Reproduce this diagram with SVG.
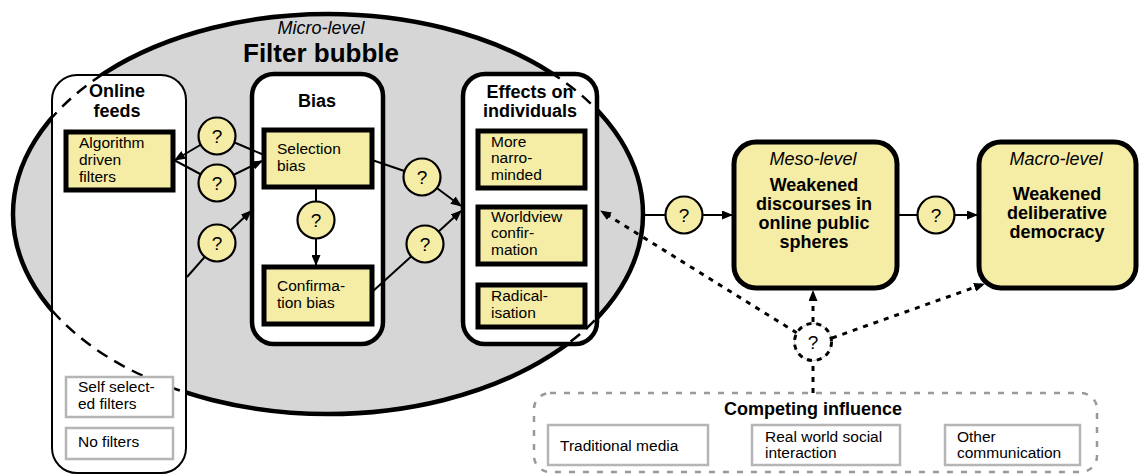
<svg xmlns="http://www.w3.org/2000/svg" width="1139" height="475" viewBox="0 0 1139 475">
<style>
text{font-family:"Liberation Sans",Arial,sans-serif;fill:#000}
.t{font-size:15.5px}
.b{font-weight:bold;font-size:18px}
.i{font-style:italic;font-size:18px}
.q{font-size:19px;text-anchor:middle}
.c{text-anchor:middle}
.yb{fill:#f5eca5;stroke:#000;stroke-width:5}
.gb{fill:#fff;stroke:#b5b5b5;stroke-width:2.5}
.qc{fill:#f5eca5;stroke:#000;stroke-width:2.2}
.ln{fill:none;stroke:#000;stroke-width:2}
.dt{fill:none;stroke:#000;stroke-width:3;stroke-dasharray:5,6}
</style>
<defs>
<marker id="ah" markerUnits="userSpaceOnUse" markerWidth="11" markerHeight="9" refX="10" refY="4.5" orient="auto">
<path d="M0,0 L11,4.5 L0,9 z" fill="#000"/>
</marker>
</defs>

<g id="filter-bubble">
<ellipse cx="328" cy="214" rx="315" ry="200" fill="#d6d6d6" stroke="#000" stroke-width="4.5"/>
<text class="i c" x="321" y="34">Micro-level</text>
<text class="c" x="321" y="62" style="font-weight:bold;font-size:26px">Filter bubble</text>
</g>

<g id="online-feeds">
<rect x="52" y="75" width="134" height="398" rx="25" fill="#fff" stroke="#000" stroke-width="2"/>
<text class="b c" x="117" y="97">Online</text>
<text class="b c" x="117" y="117">feeds</text>
</g>

<g id="bias">
<rect x="252" y="74" width="131" height="270" rx="22" fill="#fff" stroke="#000" stroke-width="4.5"/>
<text class="b c" x="317" y="107">Bias</text>
</g>

<g id="effects">
<rect x="463" y="74" width="134" height="270" rx="22" fill="#fff" stroke="#000" stroke-width="4.5"/>
<text class="b c" x="530" y="98">Effects on</text>
<text class="b c" x="530" y="117">individuals</text>
</g>

<g id="bubble-boundary">
<ellipse cx="328" cy="214" rx="315" ry="200" fill="none" stroke="#000" stroke-width="2.5" stroke-dasharray="12,8"/>
</g>

<g id="algorithm-filters">
<rect class="yb" x="66" y="132" width="107" height="58"/>
<text class="t" x="79" y="148">Algorithm</text>
<text class="t" x="79" y="165">driven</text>
<text class="t" x="79" y="182">filters</text>
</g>

<g id="self-selected-filters">
<rect class="gb" x="66" y="377" width="107" height="40"/>
<text class="t" x="78" y="392">Self select-</text>
<text class="t" x="78" y="409">ed filters</text>
</g>

<g id="no-filters">
<rect class="gb" x="66" y="428" width="107" height="31"/>
<text class="t" x="78" y="447">No filters</text>
</g>

<g id="selection-bias">
<rect class="yb" x="264" y="130" width="108" height="57"/>
<text class="t" x="277" y="154">Selection</text>
<text class="t" x="277" y="171">bias</text>
</g>

<g id="confirmation-bias">
<rect class="yb" x="264" y="267" width="108" height="57"/>
<text class="t" x="277" y="291">Confirma-</text>
<text class="t" x="277" y="308">tion bias</text>
</g>

<g id="narrow-minded">
<rect class="yb" x="478" y="131" width="107" height="57"/>
<text class="t" x="491" y="147">More</text>
<text class="t" x="491" y="163">narro-</text>
<text class="t" x="491" y="180">minded</text>
</g>

<g id="worldview-confirmation">
<rect class="yb" x="478" y="207" width="107" height="57"/>
<text class="t" x="491" y="222">Worldview</text>
<text class="t" x="491" y="238">confir-</text>
<text class="t" x="491" y="255">mation</text>
</g>

<g id="radicalisation">
<rect class="yb" x="478" y="285" width="107" height="42"/>
<text class="t" x="491" y="301">Radical-</text>
<text class="t" x="491" y="318">isation</text>
</g>

<g id="meso">
<rect x="734" y="142" width="163" height="146" rx="22" fill="#f5eca5" stroke="#000" stroke-width="5"/>
<text class="i c" x="813" y="165">Meso-level</text>
<text class="b c" x="814" y="191">Weakened</text>
<text class="b c" x="814" y="210">discourses in</text>
<text class="b c" x="814" y="229">online public</text>
<text class="b c" x="814" y="248">spheres</text>
</g>

<g id="macro">
<rect x="979" y="142" width="157" height="146" rx="22" fill="#f5eca5" stroke="#000" stroke-width="5"/>
<text class="i c" x="1056" y="165">Macro-level</text>
<text class="b c" x="1057" y="200">Weakened</text>
<text class="b c" x="1057" y="219">deliberative</text>
<text class="b c" x="1057" y="238">democracy</text>
</g>

<g id="competing-influence">
<rect x="534" y="393" width="563" height="79" rx="16" fill="none" stroke="#999" stroke-width="2.5" stroke-dasharray="6,8"/>
<text class="b c" x="813" y="415">Competing influence</text>
<rect class="gb" x="548" y="425" width="160" height="40"/>
<text class="t" x="560" y="451">Traditional media</text>
<rect class="gb" x="752" y="425" width="148" height="40"/>
<text class="t" x="765" y="442">Real world social</text>
<text class="t" x="765" y="458">interaction</text>
<rect class="gb" x="945" y="425" width="135" height="40"/>
<text class="t" x="957" y="442">Other</text>
<text class="t" x="957" y="458">communication</text>
</g>

<g id="connectors">
<line class="ln" x1="264" y1="155" x2="217" y2="135"/>
<line class="ln" x1="217" y1="135" x2="175" y2="160" marker-end="url(#ah)"/>
<line class="ln" x1="174" y1="160" x2="217" y2="183"/>
<line class="ln" x1="217" y1="183" x2="262" y2="161" marker-end="url(#ah)"/>
<line class="ln" x1="187" y1="277" x2="217" y2="243"/>
<line class="ln" x1="217" y1="243" x2="251" y2="211" marker-end="url(#ah)"/>
<line class="ln" x1="316" y1="188" x2="316" y2="220"/>
<line class="ln" x1="316" y1="220" x2="316" y2="265" marker-end="url(#ah)"/>
<line class="ln" x1="372" y1="160" x2="422" y2="177"/>
<line class="ln" x1="422" y1="177" x2="461" y2="206" marker-end="url(#ah)"/>
<line class="ln" x1="372" y1="292" x2="425" y2="244"/>
<line class="ln" x1="425" y1="244" x2="461" y2="211" marker-end="url(#ah)"/>
<line class="ln" x1="643" y1="215" x2="684" y2="215"/>
<line class="ln" x1="684" y1="215" x2="732" y2="215" marker-end="url(#ah)"/>
<line class="ln" x1="897" y1="215" x2="936" y2="215"/>
<line class="ln" x1="936" y1="215" x2="977" y2="215" marker-end="url(#ah)"/>
<line class="dt" x1="813" y1="393" x2="813" y2="362"/>
<line class="dt" x1="813" y1="322" x2="813" y2="291" marker-end="url(#ah)"/>
<line class="dt" x1="797" y1="333" x2="601" y2="211" marker-end="url(#ah)"/>
<line class="dt" x1="832" y1="338" x2="984" y2="284" marker-end="url(#ah)"/>
</g>

<g id="q1"><circle class="qc" cx="217" cy="136" r="18.5"/><text class="q" x="217" y="143">?</text></g>
<g id="q2"><circle class="qc" cx="217" cy="183" r="18.5"/><text class="q" x="217" y="190">?</text></g>
<g id="q3"><circle class="qc" cx="217" cy="243" r="18.5"/><text class="q" x="217" y="250">?</text></g>
<g id="q4"><circle class="qc" cx="316" cy="220" r="18.5"/><text class="q" x="316" y="227">?</text></g>
<g id="q5"><circle class="qc" cx="422" cy="177" r="18.5"/><text class="q" x="422" y="184">?</text></g>
<g id="q6"><circle class="qc" cx="425" cy="244" r="18.5"/><text class="q" x="425" y="251">?</text></g>
<g id="q7"><circle class="qc" cx="684" cy="215" r="18.5"/><text class="q" x="684" y="222">?</text></g>
<g id="q8"><circle class="qc" cx="936" cy="215" r="18.5"/><text class="q" x="936" y="222">?</text></g>
<g id="q9">
<circle cx="813" cy="342" r="18.5" fill="#fff" stroke="#ccc" stroke-width="1"/>
<circle cx="813" cy="342" r="18.5" fill="none" stroke="#000" stroke-width="3" stroke-dasharray="5,5"/>
<text class="q" x="813" y="349">?</text>
</g>
</svg>
